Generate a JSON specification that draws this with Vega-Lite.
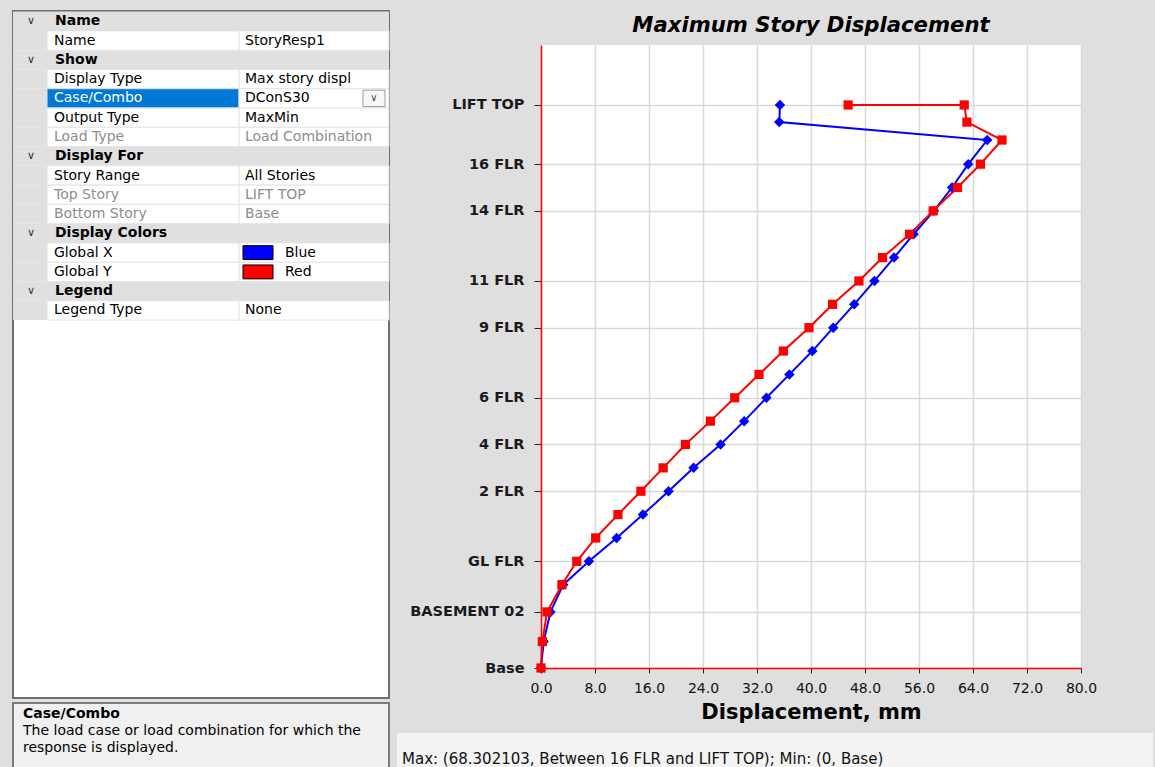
{
  "$schema": "https://vega.github.io/schema/vega-lite/v6.json",
  "background": "#dfdfdf",
  "padding": {"left": 12, "top": 10, "right": 3, "bottom": 0},
  "config": {"font": "DejaVu Sans", "view": {"stroke": null}},
  "spacing": 6,
  "hconcat": [
    {
      "spacing": 3,
      "vconcat": [
        {
          "width": 376,
          "height": 687,
          "view": {"fill": "#ffffff", "stroke": "#6f6f6f", "strokeWidth": 2},
          "data": {"values": [
            {"row": 1, "kind": "header", "label": "Name", "value": "", "state": "normal"},
            {"row": 2, "kind": "item", "label": "Name", "value": "StoryResp1", "state": "normal"},
            {"row": 3, "kind": "header", "label": "Show", "value": "", "state": "normal"},
            {"row": 4, "kind": "item", "label": "Display Type", "value": "Max story displ", "state": "normal"},
            {"row": 5, "kind": "item", "label": "Case/Combo", "value": "DConS30", "state": "selected"},
            {"row": 6, "kind": "item", "label": "Output Type", "value": "MaxMin", "state": "normal"},
            {"row": 7, "kind": "item", "label": "Load Type", "value": "Load Combination", "state": "disabled"},
            {"row": 8, "kind": "header", "label": "Display For", "value": "", "state": "normal"},
            {"row": 9, "kind": "item", "label": "Story Range", "value": "All Stories", "state": "normal"},
            {"row": 10, "kind": "item", "label": "Top Story", "value": "LIFT TOP", "state": "disabled"},
            {"row": 11, "kind": "item", "label": "Bottom Story", "value": "Base", "state": "disabled"},
            {"row": 12, "kind": "header", "label": "Display Colors", "value": "", "state": "normal"},
            {"row": 13, "kind": "item", "label": "Global X", "value": "Blue", "state": "normal"},
            {"row": 14, "kind": "item", "label": "Global Y", "value": "Red", "state": "normal"},
            {"row": 15, "kind": "header", "label": "Legend", "value": "", "state": "normal"},
            {"row": 16, "kind": "item", "label": "Legend Type", "value": "None", "state": "normal"}
          ]},
          "encoding": {
            "y": {"field": "row", "type": "ordinal", "axis": null,
              "scale": {"domain": [1,2,3,4,5,6,7,8,9,10,11,12,13,14,15,16,17,18,19,20,21,22,23,24,25,26,27,28,29,30,31,32,33,34,35], "paddingInner": 0, "paddingOuter": 0.315, "align": 0.05}}
          },
          "layer": [
            {
              "mark": {"type": "rect", "fill": "#e0e0e0"},
              "encoding": {
                "x": {"datum": 0, "type": "quantitative", "scale": {"domain": [0, 376]}, "axis": null},
                "x2": {"datum": 376}
              }
            },
            {
              "transform": [{"filter": "datum.kind === 'item'"}],
              "mark": {"type": "rect", "stroke": "#e3e3e3", "strokeWidth": 1},
              "encoding": {
                "x": {"datum": 34, "type": "quantitative", "scale": {"domain": [0, 376]}, "axis": null},
                "x2": {"datum": 226},
                "fill": {"condition": {"test": "datum.state === 'selected'", "value": "#0078d7"}, "value": "#ffffff"}
              }
            },
            {
              "transform": [{"filter": "datum.kind === 'item'"}],
              "mark": {"type": "rect", "fill": "#ffffff", "stroke": "#e3e3e3", "strokeWidth": 1},
              "encoding": {
                "x": {"datum": 226, "type": "quantitative", "scale": {"domain": [0, 376]}, "axis": null},
                "x2": {"datum": 376}
              }
            },
            {
              "transform": [{"filter": "datum.kind === 'header'"}],
              "mark": {"type": "text", "align": "center", "baseline": "middle", "fontSize": 11, "text": "∨", "color": "#333333"},
              "encoding": {
                "x": {"datum": 18, "type": "quantitative", "scale": {"domain": [0, 376]}, "axis": null}
              }
            },
            {
              "transform": [{"filter": "datum.kind === 'header'"}],
              "mark": {"type": "text", "align": "left", "baseline": "middle", "fontSize": 14, "fontWeight": "bold", "color": "#000000"},
              "encoding": {
                "x": {"datum": 42, "type": "quantitative", "scale": {"domain": [0, 376]}, "axis": null},
                "text": {"field": "label"}
              }
            },
            {
              "transform": [{"filter": "datum.kind === 'item'"}],
              "mark": {"type": "text", "align": "left", "baseline": "middle", "fontSize": 14},
              "encoding": {
                "x": {"datum": 41, "type": "quantitative", "scale": {"domain": [0, 376]}, "axis": null},
                "text": {"field": "label"},
                "color": {"condition": [{"test": "datum.state === 'selected'", "value": "#ffffff"}, {"test": "datum.state === 'disabled'", "value": "#8d8d8d"}], "value": "#000000"}
              }
            },
            {
              "transform": [{"filter": "datum.kind === 'item' && datum.value !== 'Blue' && datum.value !== 'Red'"}],
              "mark": {"type": "text", "align": "left", "baseline": "middle", "fontSize": 14},
              "encoding": {
                "x": {"datum": 232, "type": "quantitative", "scale": {"domain": [0, 376]}, "axis": null},
                "text": {"field": "value"},
                "color": {"condition": {"test": "datum.state === 'disabled'", "value": "#8d8d8d"}, "value": "#000000"}
              }
            },
            {
              "transform": [{"filter": "datum.value === 'Blue' || datum.value === 'Red'"}],
              "mark": {"type": "bar", "stroke": "#000000", "strokeWidth": 1, "height": {"band": 0.72}},
              "encoding": {
                "x": {"datum": 230, "type": "quantitative", "scale": {"domain": [0, 376]}, "axis": null},
                "x2": {"datum": 260},
                "fill": {"field": "value", "type": "nominal", "scale": {"domain": ["Blue", "Red"], "range": ["#0000ff", "#ff0000"]}, "legend": null}
              }
            },
            {
              "transform": [{"filter": "datum.value === 'Blue' || datum.value === 'Red'"}],
              "mark": {"type": "text", "align": "left", "baseline": "middle", "fontSize": 14, "color": "#000000"},
              "encoding": {
                "x": {"datum": 272, "type": "quantitative", "scale": {"domain": [0, 376]}, "axis": null},
                "text": {"field": "value"}
              }
            },
            {
              "transform": [{"filter": "datum.state === 'selected'"}],
              "mark": {"type": "bar", "fill": "#f7f7f7", "stroke": "#9a9a9a", "strokeWidth": 1, "height": {"band": 0.85}},
              "encoding": {
                "x": {"datum": 350, "type": "quantitative", "scale": {"domain": [0, 376]}, "axis": null},
                "x2": {"datum": 372}
              }
            },
            {
              "transform": [{"filter": "datum.state === 'selected'"}],
              "mark": {"type": "text", "align": "center", "baseline": "middle", "fontSize": 10, "text": "∨", "color": "#444444"},
              "encoding": {
                "x": {"datum": 361, "type": "quantitative", "scale": {"domain": [0, 376]}, "axis": null}
              }
            }
          ]
        },
        {
          "width": 376,
          "height": 67,
          "view": {"fill": "#f0f0f0", "stroke": "#7a7a7a", "strokeWidth": 2},
          "data": {"values": [
            {"line": 1, "kind": "head", "text": "Case/Combo"},
            {"line": 2, "kind": "body", "text": "The load case or load combination for which the"},
            {"line": 3, "kind": "body", "text": "response is displayed."}
          ]},
          "encoding": {
            "y": {"field": "line", "type": "ordinal", "axis": null,
              "scale": {"domain": [1, 2, 3], "padding": 1.03, "align": 0.33}},
            "x": {"datum": 10, "type": "quantitative", "scale": {"domain": [0, 376]}, "axis": null},
            "text": {"field": "text"}
          },
          "layer": [
            {
              "transform": [{"filter": "datum.kind === 'head'"}],
              "mark": {"type": "text", "align": "left", "baseline": "middle", "fontSize": 14, "fontWeight": "bold", "color": "#000000"}
            },
            {
              "transform": [{"filter": "datum.kind === 'body'"}],
              "mark": {"type": "text", "align": "left", "baseline": "middle", "fontSize": 14, "color": "#000000"}
            }
          ]
        }
      ]
    },
    {
      "spacing": 8,
      "vconcat": [
        {
          "width": 540,
          "height": 22,
          "data": {"values": [{"title": "Maximum Story Displacement"}]},
          "mark": {"type": "text", "align": "center", "baseline": "middle", "fontSize": 21.2, "fontWeight": "bold", "fontStyle": "italic", "color": "#000000"},
          "encoding": {
            "text": {"field": "title"},
            "x": {"datum": 270, "type": "quantitative", "scale": {"domain": [0, 540]}, "axis": null},
            "y": {"datum": 15, "type": "quantitative", "scale": {"domain": [0, 22], "reverse": true}, "axis": null}
          }
        },
        {
          "width": 540,
          "height": 623,
          "view": {"fill": "#ffffff", "stroke": null},
          "data": {"values": [
            {"dir": "Global X", "seq": 1, "story": "Base", "elev": 0, "disp": 0},
            {"dir": "Global X", "seq": 2, "story": "BASEMENT 03", "elev": 3.4, "disp": 0.4},
            {"dir": "Global X", "seq": 3, "story": "BASEMENT 02", "elev": 7.2, "disp": 1.4},
            {"dir": "Global X", "seq": 4, "story": "BASEMENT 01", "elev": 10.7, "disp": 3.3},
            {"dir": "Global X", "seq": 5, "story": "GL FLR", "elev": 13.7, "disp": 7.1},
            {"dir": "Global X", "seq": 6, "story": "MEZZ FLR", "elev": 16.7, "disp": 11.2},
            {"dir": "Global X", "seq": 7, "story": "1 FLR", "elev": 19.7, "disp": 15.1},
            {"dir": "Global X", "seq": 8, "story": "2 FLR", "elev": 22.7, "disp": 18.9},
            {"dir": "Global X", "seq": 9, "story": "3 FLR", "elev": 25.7, "disp": 22.6},
            {"dir": "Global X", "seq": 10, "story": "4 FLR", "elev": 28.7, "disp": 26.6},
            {"dir": "Global X", "seq": 11, "story": "5 FLR", "elev": 31.7, "disp": 30.1},
            {"dir": "Global X", "seq": 12, "story": "6 FLR", "elev": 34.7, "disp": 33.4},
            {"dir": "Global X", "seq": 13, "story": "7 FLR", "elev": 37.7, "disp": 36.8},
            {"dir": "Global X", "seq": 14, "story": "8 FLR", "elev": 40.7, "disp": 40.2},
            {"dir": "Global X", "seq": 15, "story": "9 FLR", "elev": 43.7, "disp": 43.3},
            {"dir": "Global X", "seq": 16, "story": "10 FLR", "elev": 46.7, "disp": 46.4},
            {"dir": "Global X", "seq": 17, "story": "11 FLR", "elev": 49.7, "disp": 49.4},
            {"dir": "Global X", "seq": 18, "story": "12 FLR", "elev": 52.7, "disp": 52.3},
            {"dir": "Global X", "seq": 19, "story": "13 FLR", "elev": 55.7, "disp": 55.2},
            {"dir": "Global X", "seq": 20, "story": "14 FLR", "elev": 58.7, "disp": 58.2},
            {"dir": "Global X", "seq": 21, "story": "15 FLR", "elev": 61.7, "disp": 60.9},
            {"dir": "Global X", "seq": 22, "story": "16 FLR", "elev": 64.7, "disp": 63.3},
            {"dir": "Global X", "seq": 23, "story": "TERRACE", "elev": 67.8, "disp": 66.1},
            {"dir": "Global X", "seq": 24, "story": "MUMTY", "elev": 70.1, "disp": 35.3},
            {"dir": "Global X", "seq": 25, "story": "LIFT TOP", "elev": 72.3, "disp": 35.4},
            {"dir": "Global Y", "seq": 1, "story": "Base", "elev": 0, "disp": 0},
            {"dir": "Global Y", "seq": 2, "story": "BASEMENT 03", "elev": 3.4, "disp": 0.2},
            {"dir": "Global Y", "seq": 3, "story": "BASEMENT 02", "elev": 7.2, "disp": 0.9},
            {"dir": "Global Y", "seq": 4, "story": "BASEMENT 01", "elev": 10.7, "disp": 3.1},
            {"dir": "Global Y", "seq": 5, "story": "GL FLR", "elev": 13.7, "disp": 5.3},
            {"dir": "Global Y", "seq": 6, "story": "MEZZ FLR", "elev": 16.7, "disp": 8.1},
            {"dir": "Global Y", "seq": 7, "story": "1 FLR", "elev": 19.7, "disp": 11.4},
            {"dir": "Global Y", "seq": 8, "story": "2 FLR", "elev": 22.7, "disp": 14.8},
            {"dir": "Global Y", "seq": 9, "story": "3 FLR", "elev": 25.7, "disp": 18.1},
            {"dir": "Global Y", "seq": 10, "story": "4 FLR", "elev": 28.7, "disp": 21.4},
            {"dir": "Global Y", "seq": 11, "story": "5 FLR", "elev": 31.7, "disp": 25.1},
            {"dir": "Global Y", "seq": 12, "story": "6 FLR", "elev": 34.7, "disp": 28.7},
            {"dir": "Global Y", "seq": 13, "story": "7 FLR", "elev": 37.7, "disp": 32.3},
            {"dir": "Global Y", "seq": 14, "story": "8 FLR", "elev": 40.7, "disp": 35.9},
            {"dir": "Global Y", "seq": 15, "story": "9 FLR", "elev": 43.7, "disp": 39.7},
            {"dir": "Global Y", "seq": 16, "story": "10 FLR", "elev": 46.7, "disp": 43.2},
            {"dir": "Global Y", "seq": 17, "story": "11 FLR", "elev": 49.7, "disp": 47.1},
            {"dir": "Global Y", "seq": 18, "story": "12 FLR", "elev": 52.7, "disp": 50.6},
            {"dir": "Global Y", "seq": 19, "story": "13 FLR", "elev": 55.7, "disp": 54.6},
            {"dir": "Global Y", "seq": 20, "story": "14 FLR", "elev": 58.7, "disp": 58.1},
            {"dir": "Global Y", "seq": 21, "story": "15 FLR", "elev": 61.7, "disp": 61.7},
            {"dir": "Global Y", "seq": 22, "story": "16 FLR", "elev": 64.7, "disp": 65.1},
            {"dir": "Global Y", "seq": 23, "story": "TERRACE", "elev": 67.8, "disp": 68.3},
            {"dir": "Global Y", "seq": 24, "story": "MUMTY", "elev": 70.1, "disp": 63.1},
            {"dir": "Global Y", "seq": 25, "story": "LIFT TOP", "elev": 72.3, "disp": 62.7},
            {"dir": "Global Y", "seq": 26, "story": "LIFT TOP", "elev": 72.3, "disp": 45.5}
          ]},
          "encoding": {
            "x": {
              "field": "disp", "type": "quantitative",
              "scale": {"domain": [0, 80], "nice": false, "zero": false},
              "axis": {
                "values": [0, 8, 16, 24, 32, 40, 48, 56, 64, 72, 80],
                "format": ".1f",
                "title": "Displacement, mm",
                "titleFontSize": 21, "titleFontWeight": "bold", "titleColor": "#000000", "titlePadding": 6,
                "labelFontSize": 14, "labelColor": "#111111", "labelPadding": 8, "labelFlush": false, "labelOverlap": false,
                "tickColor": "#222222", "tickSize": 5, "tickWidth": 1,
                "domainColor": "#ff0000", "domainWidth": 1.5,
                "grid": true, "gridColor": "#d9d9d9", "gridWidth": 1.5
              }
            },
            "y": {
              "field": "elev", "type": "quantitative",
              "scale": {"domain": [0, 80], "nice": false, "zero": false},
              "axis": {
                "values": [0, 7.2, 13.7, 22.7, 28.7, 34.7, 43.7, 49.7, 58.7, 64.7, 72.3],
                "labelExpr": "datum.value == 0 ? 'Base' : datum.value == 7.2 ? 'BASEMENT 02' : datum.value == 13.7 ? 'GL FLR' : datum.value == 22.7 ? '2 FLR' : datum.value == 28.7 ? '4 FLR' : datum.value == 34.7 ? '6 FLR' : datum.value == 43.7 ? '9 FLR' : datum.value == 49.7 ? '11 FLR' : datum.value == 58.7 ? '14 FLR' : datum.value == 64.7 ? '16 FLR' : datum.value == 72.3 ? 'LIFT TOP' : ''",
                "title": null,
                "labelFontSize": 14.5, "labelFontWeight": "bold", "labelColor": "#1a1a1a", "labelPadding": 10, "labelOverlap": false, "labelFlush": false,
                "tickColor": "#222222", "tickSize": 7, "tickWidth": 1,
                "domainColor": "#ff0000", "domainWidth": 1.5,
                "grid": true, "gridColor": "#d9d9d9", "gridWidth": 1.5
              }
            },
            "color": {"field": "dir", "type": "nominal", "scale": {"domain": ["Global X", "Global Y"], "range": ["#0000ff", "#ff0000"]}, "legend": null},
            "order": {"field": "seq", "type": "quantitative"}
          },
          "layer": [
            {"mark": {"type": "line", "strokeWidth": 2}},
            {
              "mark": {"type": "point", "filled": true, "opacity": 1},
              "encoding": {
                "shape": {"field": "dir", "type": "nominal", "scale": {"domain": ["Global X", "Global Y"], "range": ["diamond", "square"]}, "legend": null},
                "size": {"field": "dir", "type": "nominal", "scale": {"domain": ["Global X", "Global Y"], "range": [110, 85]}, "legend": null}
              }
            }
          ]
        },
        {
          "width": 612,
          "height": 37,
          "data": {"values": [{"msg": "Max: (68.302103, Between 16 FLR and LIFT TOP);   Min: (0, Base)"}]},
          "layer": [
            {
              "mark": {"type": "rect", "fill": "#f3f3f3"},
              "encoding": {
                "x": {"datum": -144, "type": "quantitative", "scale": {"domain": [0, 612]}, "axis": null},
                "x2": {"datum": 612},
                "y": {"datum": 3, "type": "quantitative", "scale": {"domain": [0, 37], "reverse": true}, "axis": null},
                "y2": {"datum": 37}
              }
            },
            {
              "mark": {"type": "text", "align": "left", "baseline": "middle", "fontSize": 15, "color": "#111111"},
              "encoding": {
                "text": {"field": "msg"},
                "x": {"datum": -139, "type": "quantitative", "scale": {"domain": [0, 612]}, "axis": null},
                "y": {"datum": 29, "type": "quantitative", "scale": {"domain": [0, 37], "reverse": true}, "axis": null}
              }
            }
          ]
        }
      ]
    }
  ]
}
